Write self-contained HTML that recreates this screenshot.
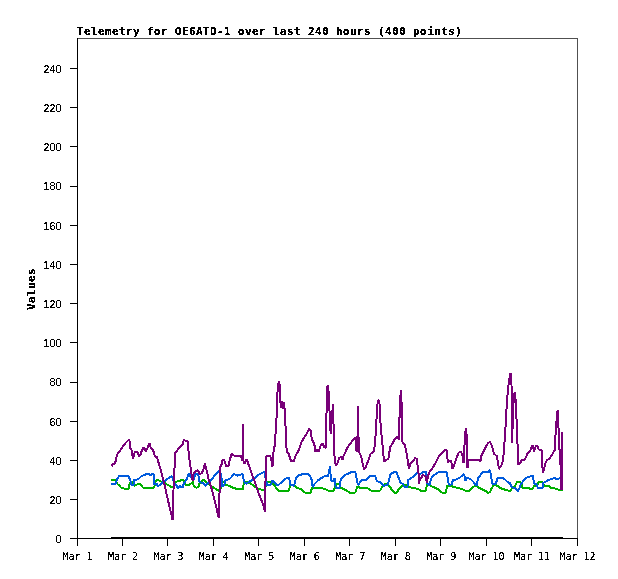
<!DOCTYPE html>
<html><head><meta charset="utf-8"><title>Telemetry for OE6ATD-1</title>
<style>
html,body{margin:0;padding:0;background:#fff;}
body{width:618px;height:579px;overflow:hidden;}
svg{display:block;will-change:transform;}
.s{font-family:"DejaVu Sans Mono","Liberation Mono",monospace;font-size:10px;letter-spacing:-0.02px;fill:#000;}
.n{font-family:"Liberation Sans",sans-serif;font-size:10.8px;fill:#000;}
.b{font-family:"DejaVu Sans Mono","Liberation Mono",monospace;font-size:11px;font-weight:bold;letter-spacing:0.38px;fill:#000;}
</style></head>
<body>
<svg width="618" height="579" viewBox="0 0 618 579">
<defs><filter id="crisp"><feComponentTransfer><feFuncA type="discrete" tableValues="0 0 1 1 1"/></feComponentTransfer></filter><filter id="crispb"><feComponentTransfer><feFuncA type="discrete" tableValues="0 1 1"/></feComponentTransfer></filter></defs>
<rect x="0" y="0" width="618" height="579" fill="#fff"/>
<g filter="url(#crispb)">
<text x="77" y="35" class="b">Telemetry for OE6ATD-1 over last 240 hours (400 points)</text>
<text class="b" transform="translate(35 310) rotate(-90)" x="0" y="0">Values</text>
</g>
<g filter="url(#crisp)">
<text x="61.4" y="543" class="n" text-anchor="end">0</text>
<text x="61.4" y="504" class="n" text-anchor="end">20</text>
<text x="61.4" y="465" class="n" text-anchor="end">40</text>
<text x="61.4" y="426" class="n" text-anchor="end">60</text>
<text x="61.4" y="386" class="n" text-anchor="end">80</text>
<text x="61.4" y="347" class="n" text-anchor="end">100</text>
<text x="61.4" y="308" class="n" text-anchor="end">120</text>
<text x="61.4" y="269" class="n" text-anchor="end">140</text>
<text x="61.4" y="230" class="n" text-anchor="end">160</text>
<text x="61.4" y="190" class="n" text-anchor="end">180</text>
<text x="61.4" y="151" class="n" text-anchor="end">200</text>
<text x="61.4" y="112" class="n" text-anchor="end">220</text>
<text x="61.4" y="73" class="n" text-anchor="end">240</text>
<text x="77.50" y="560" class="s" text-anchor="middle">Mar 1</text>
<text x="122.95" y="560" class="s" text-anchor="middle">Mar 2</text>
<text x="168.41" y="560" class="s" text-anchor="middle">Mar 3</text>
<text x="213.86" y="560" class="s" text-anchor="middle">Mar 4</text>
<text x="259.32" y="560" class="s" text-anchor="middle">Mar 5</text>
<text x="304.77" y="560" class="s" text-anchor="middle">Mar 6</text>
<text x="350.23" y="560" class="s" text-anchor="middle">Mar 7</text>
<text x="395.68" y="560" class="s" text-anchor="middle">Mar 8</text>
<text x="441.14" y="560" class="s" text-anchor="middle">Mar 9</text>
<text x="486.59" y="560" class="s" text-anchor="middle">Mar 10</text>
<text x="532.05" y="560" class="s" text-anchor="middle">Mar 11</text>
<text x="577.50" y="560" class="s" text-anchor="middle">Mar 12</text>
</g>
<g fill="none" stroke-width="2" stroke-linejoin="bevel" shape-rendering="crispEdges">
<polyline stroke="#000" points="111,538 563,538"/>
<polyline stroke="#00b000" points="111.2,479.8 115.2,479.8 116.1,481.4 117.5,484 119.7,485.8 121,487.6 125.5,488.9 128.6,488.5 129,485.8 130.4,482.7 131.7,481.8 132.6,482.2 134.4,485.8 137.9,484 139.3,483.6 141.5,485.4 142.8,487.6 154.4,487.6 154.9,482.2 157.1,480 158.9,480.5 161.6,481.8 164.7,483.1 167.8,484.9 172.7,487.6 175.4,482.2 178.5,480.9 182.9,480 184.3,481.8 185.1,484.9 188.3,485.4 190.9,483.6 192.7,481.8 194,486.7 196.3,487.6 198.5,487.1 199,483.6 200.7,482.2 203.1,479.6 205.3,481.4 208,484 211.6,486.2 215.1,488.5 218.7,490.7 219.4,490.6 221.4,487.1 222.2,481.8 224,481.8 225.8,484.9 229.4,485.8 230.7,487.1 234.7,488 236,489.4 243.1,489.4 243.6,483.6 244.9,481.4 248,482.2 250.7,483.6 253.4,485.4 257.4,488.5 264.3,490.6 267.1,482.3 271.9,482.3 274,485.1 278.1,490.6 289.2,490.6 289.9,485.1 294.7,485.7 296.8,487.8 300.9,489.2 305.1,492.7 310.6,492.7 312,487.8 315.4,487.8 320,487.8 325.5,489.2 328.3,490.6 333.8,490.6 335.2,486.4 336.6,484.4 339.3,484.4 340.7,487.8 344.2,489.2 349.7,492.7 355.2,492.7 357.3,486.4 360,487.8 368.3,488.5 371.1,490.6 380.1,490.6 382.2,486.4 384.2,484.4 387.7,484.4 389.8,486.4 391.8,489.9 394.6,492.7 396.7,492.7 398.7,489.2 401.9,485.7 405.4,484.4 407.4,487.1 413,487.8 418.5,489.2 420.6,490.6 426.1,490.6 426.8,484.4 430.2,484.4 431.6,486.4 435.1,487.8 439.2,489.9 442,492.7 446.1,492.7 446.8,486.4 449.6,485.7 452.3,485.7 453,487.1 458.5,487.8 465.4,490.6 469.6,490.6 472.3,487.8 473.6,486.8 476,485.6 478.5,487.4 482.1,489.3 485.7,491.1 488.1,492.9 490,492.3 491.8,488 493.6,485 496,485 497.8,486.2 500.2,488 503.9,489.3 507.5,490.5 510.5,490.5 512.3,488 515,485.7 516.3,483.5 517.2,481.7 520.3,481.7 521.7,484.4 522.1,487.9 528.3,487.9 529.7,488.8 532.8,488.8 534.1,485.7 537.2,485.7 538.1,482.1 542.6,482.1 543.9,485.7 548.8,485.7 550.1,487.5 555,488.4 556.8,489.3 562.6,490.1"/>
<polyline stroke="#005adc" points="111.2,483.8 115.7,483.8 116.6,480.9 117.5,478.2 119.2,476 128.6,476 129.5,478.7 130.4,480 130.8,483.1 131.7,485.4 133.5,485.4 133.5,480 137,479.6 139.3,478.2 141.5,476 145,474.7 146.4,473.8 149.5,473.8 150.4,476 151.7,473.8 153.5,473.8 153.9,484 156.7,484 158,486.2 159.8,484.9 162,482.7 164.2,481.4 167.8,478.7 172.2,476 172.7,479.1 174.9,484 176.7,485.8 177.6,488 179.8,486.2 181.1,486.7 182.5,487.6 183.4,484.9 184.7,482.2 186.5,479.6 188.3,475.1 189.6,473.3 190.5,476.5 191.8,478.7 193.6,479.6 195.4,474.2 197.2,473.8 198.5,475.6 199.4,482.2 203.4,483.1 204.9,485.8 206.7,484.5 208.5,482.7 210.7,480.5 214.2,476 218.7,471.1 219.4,471.2 221.4,475.6 221.8,485.8 224,485.8 224.9,482.2 225.8,480 229.4,479.1 231.6,476.9 233.8,473.8 235.6,474.7 237.8,475.6 240,475.1 242.7,473.8 243.6,479.1 244.9,483.1 246.7,483.6 248.5,482.2 250.7,480.9 253.4,479.5 258.8,474.7 264.3,471.9 265,476.1 267.1,485.1 270.6,485.1 272.6,480.2 274.7,482.3 277.5,485.7 281.6,482.3 286.4,478.2 289.2,478.2 290.6,485.1 294,485.7 296.1,478.2 298.9,475.4 303,474 308.5,474 311.3,478.2 312.7,487.1 314.8,483.7 318.2,480.2 322.3,477.5 325.5,475.4 327.6,476.8 329,472.6 329.9,465.7 330.8,478.1 331.7,481.6 333.1,480.9 334.5,478.1 335.2,485.1 335.9,487.8 339.3,487.8 340.7,480.2 342.1,477.5 345.6,474.7 349,473.3 351.8,471.9 355.2,471.9 356.6,478.1 358,485.1 360,482.3 361.4,480.2 367,479.5 369.7,476.1 375.2,476.1 376.6,480.2 378,481.6 380.8,482.3 382.2,484.4 383.5,485.7 387.7,485.1 389.1,479.5 390.4,474 394.6,471.9 396.7,472.6 398.7,478.1 400.5,482.3 403.3,484.4 404.7,487.1 407.4,487.1 408.1,480.2 410.2,478.8 413,476.8 415.7,474.7 417.8,471.9 419.9,474.7 421.9,472.6 426.1,471.9 426.8,479.5 427.5,483.7 429.5,485.1 430.9,479.5 432.3,476.1 435.7,474 439.2,471.9 446.8,471.9 448.2,482.3 449.6,485.1 451.6,484.4 453,480.2 455.8,479.5 459.9,477.5 464.1,474 465.4,480.9 466.8,478.1 470.3,478.8 472.4,480.8 475.4,484.4 476.7,485.6 477.9,478.4 479.7,476 482.1,472.9 483.9,471.7 488.1,471.7 490,469.9 491.2,477.2 492.4,483.8 496,483.8 497.2,478.4 498.4,477.8 502.6,477.8 505.1,479.6 507.5,482 509.9,483.2 511.7,486.8 514.1,488 515,487.9 517.7,491 519.4,488.8 519.9,485.7 521.7,483.5 523,480.8 524.8,479 526.6,477.7 529.2,476.8 531,475.9 533.2,475.9 533.7,481.7 534.6,483.9 536.8,484.4 537.7,487.9 542.6,487.9 543.5,482.6 545.7,481.7 547.9,479.9 552.4,479 554.1,477.7 555.9,478.6 557.3,479.5 559.5,478.1 561.3,476.4 562.6,475.9"/>
<polyline stroke="#780078" points="112,466.5 112.2,464.3 114.8,463.8 115.8,460.5 116.5,457 117,454.5 120.2,450.6 124.3,444.4 127.5,441 129,439.5 129.8,442 130,448 131.5,450 133,458.8 134.8,452.3 136.1,451.6 137.5,452.3 138.9,456 140.3,455 141.7,450.9 143.1,448.1 144.4,448.1 145.8,451.8 147.2,448.8 148.6,445.4 149.6,443.5 150.7,447.4 152,448.8 153.4,450.9 154.1,454.4 155.5,456.4 156.9,457.1 157.9,460.6 159,464 160.3,468.2 162.5,476.9 165.1,486.7 167,496 170,509 172.6,520 173.5,490 174.6,466 175.2,452.5 176.7,451.6 178.5,448.1 181,446.4 182.8,443.8 183.8,439.6 186.2,441.2 188,441.2 188.5,450.7 189.7,462 191,469.7 191.8,476 192.7,480.5 193.6,473.3 195.4,471.1 198,470.2 199.8,474.2 201.6,473.3 203.4,469.8 204.9,463.6 206.2,468.9 207.6,474.2 208.9,480.5 210.7,485.8 212.5,492 214.2,498.3 216.6,508.5 218.7,517.8 219.4,503 219.8,470 220.6,466 221.6,464.7 222.4,460.5 223.2,459.5 224.3,460.5 225.2,463.3 226,466 227.5,466.5 228.6,466 229.2,462 230,459.5 230.8,456.4 231.5,454.3 232.1,453.6 232.8,454.5 233.8,455.6 240.5,455.6 241.8,459 242.6,461 243,423.8 243.4,461 244.5,463.5 245.3,462 246.2,459.8 247.2,460.5 248.3,463.8 249.8,468 250.5,469.9 252.6,476.1 255.4,483.7 258.1,492 260.9,498.9 263.6,505.8 265,512.3 265.2,491 266,466 266.2,457 267.2,455.5 270,456 271,458 272.5,466.5 273,456 274,449 275,444 276,425 277,412 277.2,396 278.2,384 279,381.6 279.6,384 280,392 280.2,400 281,408 282,401 283,409 284,402 284.8,411 285.6,428 286.2,445 287,452 288.5,453.5 290.8,460.4 292,461.6 293.8,461 295.6,455.6 298,451.9 299.9,447.1 301.7,441.7 303.5,438.6 305.9,435 308.9,429 309.3,428.5 310.2,429.9 311.1,432 311.7,438.7 313.4,442.1 314.5,445.4 315.1,451.6 316.7,449.9 318.4,451.6 319.6,448.8 321.2,444.3 322.9,443.8 324,447.1 325.7,447.7 326,433 326.8,401 327.5,386.5 328,385.3 328.7,393 329.2,401 329.6,414 330.2,428 330.8,433.5 331.3,428 332,416 333,404.5 333.3,415 333.6,427.5 334.2,453.3 335.8,465.7 337.5,463.4 339.2,457.8 341.5,457.2 342.6,460.1 343.7,455.6 345.4,452.2 347.6,447.1 349.9,444.3 352.1,441 354.4,438.1 355.5,437.6 356.6,452 357.9,430 358,406.4 358.1,430 359.5,453 360.5,455 361.3,457 362.5,463 364,469.5 366.1,466.4 368.3,460.5 370.5,453.9 373.5,451.7 374.9,445.1 376.1,426.8 377.1,407 377.9,400.4 379.3,400.4 380.1,414.3 380.8,429 382,439.3 383,451 384,461.2 385.9,460.5 388.4,458.3 390.3,446.6 392.5,443.7 395.5,437.8 397.7,437.1 398.8,440 399.6,414.5 400.7,390.6 401.1,390.6 402,414.5 402.3,441 402.8,443.5 404.8,444.2 406.2,451.1 407.6,459.4 409,469.1 410.4,463.5 413.1,460.8 415.2,458 416.6,458.7 417.7,466.3 418.6,473.2 419.2,483.7 419.9,478.1 421.2,478.8 422.6,475.4 424,475.4 426.1,476.8 426.8,483 428.1,475.4 429.7,471.8 433.1,467 435.9,462.2 438.7,456.6 442.1,452.5 445.6,449.7 447,451.1 447.7,462.2 449,460.8 451.1,460.8 452.5,469.1 454.6,463.5 456.6,458 458.7,452.5 460.8,451.8 462.2,453.9 463.5,463 464.6,443 465.7,428.8 466.2,428.8 466.9,441 467.5,467.8 468.4,460 479.7,459.6 480.3,462 481.5,455.4 483.3,451.8 485.7,446.9 488.1,443.3 489.8,441.8 491.2,444.5 492.3,447.1 493.9,453.6 496.7,456 497.9,461.7 498.9,469 501.2,465.7 502.8,460.9 503.6,454.4 504.4,443.1 505.2,435 505.8,420 506.8,405 507.5,395 508.5,385 509.5,378 510.5,373.5 511.2,374 511.5,385 511.8,400 512,442.5 512.3,442.5 512.8,410 513.5,403 514.5,393 515.2,393 515.8,405 516.2,412 517,430 517.8,452 518.3,464.5 519.4,464 521.1,461.3 522.1,459.5 524.9,459.5 526.3,456.4 527,454.3 528.4,453 530.1,451.2 531.1,448.8 531.8,446 532.9,445.5 533.9,451.6 534.9,448.8 536,446 537.3,446 538.7,449.5 541.5,449.5 541.8,460.6 542.9,472.5 544.3,468.2 545.6,462.6 547,459.9 548.4,459.2 550.5,457.1 552.5,454.3 553.6,451.6 555,450.2 555.4,437 556.2,424.1 557.6,410.3 558.4,424.1 559.1,449.7 560.2,449.7 561,490 561.8,432 562.5,490"/>
</g>
<g fill="none" stroke="#000" stroke-width="1" shape-rendering="crispEdges">
<path d="M77 38.5H577.5" stroke="#505050"/>
<path d="M577.5 38V538" stroke="#505050"/>
<path d="M77.5 38V538.5"/>
<path d="M70 538.5H577"/>
<path d="M70 538.5H77" />
<path d="M70 499.5H77" />
<path d="M70 460.5H77" />
<path d="M70 421.5H77" />
<path d="M70 382.5H77" />
<path d="M70 342.5H77" />
<path d="M70 303.5H77" />
<path d="M70 264.5H77" />
<path d="M70 225.5H77" />
<path d="M70 186.5H77" />
<path d="M70 146.5H77" />
<path d="M70 107.5H77" />
<path d="M70 68.5H77" />
<path d="M77.5 538V545.5" />
<path d="M122.5 538V545.5" />
<path d="M167.5 538V545.5" />
<path d="M213.5 538V545.5" />
<path d="M258.5 538V545.5" />
<path d="M304.5 538V545.5" />
<path d="M349.5 538V545.5" />
<path d="M395.5 538V545.5" />
<path d="M440.5 538V545.5" />
<path d="M486.5 538V545.5" />
<path d="M531.5 538V545.5" />
<path d="M577.5 538V545.5" />
</g>
</svg>
</body></html>
